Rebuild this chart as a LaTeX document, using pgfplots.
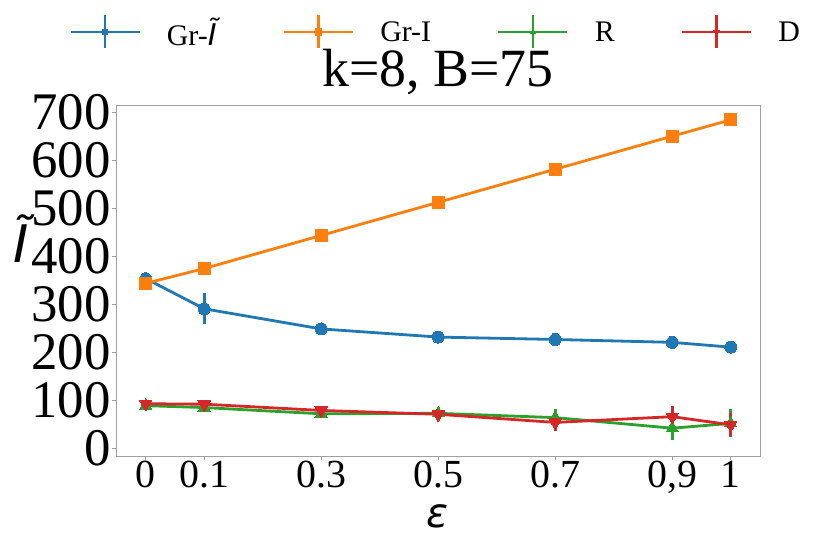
\documentclass[border=0pt]{standalone}
\usepackage{pgfplots}
\pgfplotsset{compat=1.18}
\usepackage{fontspec}
\setmainfont{Liberation Serif}
\newfontfamily\dvs{DejaVu Sans}
\definecolor{tblue}{RGB}{31,119,180}
\definecolor{torange}{RGB}{255,127,14}
\definecolor{tgreen}{RGB}{44,160,44}
\definecolor{tred}{RGB}{214,39,40}
\definecolor{spine}{RGB}{160,160,160}
\begin{document}
\begin{tikzpicture}
\begin{axis}[
  at={(116bp,80bp)}, anchor=south west,
  scale only axis, width=644bp, height=351bp,
  xmin=-0.0508, xmax=1.05, ymin=-16, ymax=716,
  axis line style={spine, line width=0.8bp},
  tick style={spine, line width=0.8bp},
  tick align=outside, major tick length=4bp,
  xtick={0,0.1,0.3,0.5,0.7,0.9,1},
  xticklabels={\textrm{0},\textrm{0.1},\textrm{0.3},\textrm{0.5},\textrm{0.7},{\textrm{0,9}},\textrm{1}},
  ytick={0,100,200,300,400,500,600,700},
  xtick pos=bottom, ytick pos=left,
  /pgf/number format/assume math mode=true,
  yticklabel style={font=\fontsize{53}{53}\selectfont, inner sep=1bp},
  xticklabel style={font=\fontsize{40}{40}\selectfont, inner sep=1bp},
  title={k=8, B=75},
  title style={at={(0.5,1)}, anchor=base, yshift=13bp, inner sep=0pt, font=\fontsize{54}{54}\selectfont},
  ylabel={\dvs\itshape Ĩ},
  ylabel style={at={(axis description cs:-0.147,0.618)}, anchor=center, rotate=-90, inner sep=0pt, font=\fontsize{52}{52}\selectfont},
  xlabel={\dvs\itshape ε},
  xlabel style={at={(axis description cs:0.5,-0.204)}, anchor=base, inner sep=0pt, font=\fontsize{41}{41}\selectfont},
  legend columns=4,
  legend cell align=left,
  legend style={at={(axis description cs:-0.073,1.208)}, anchor=west, draw=none, fill=none, inner sep=0pt,
    font=\fontsize{30}{30}\selectfont,
    nodes={inner sep=0pt},
    /tikz/every odd column/.append style={column sep=26bp},
    /tikz/every even column/.append style={column sep=66bp}},
  every axis plot/.append style={line width=2.8bp},
  legend image code/.code={
    \draw[#1,mark=none,line width=2.7bp] (0bp,0bp) -- (69bp,0bp);
    \draw[#1,mark=none,line width=2.7bp] (34.5bp,-16.5bp) -- (34.5bp,16.5bp);
    \draw[#1,mark size=3.2bp] plot coordinates {(34.5bp,0bp)};
  },
]
\addplot[color=tblue, mark=*, mark size=6bp, mark options={solid, fill=tblue, draw=tblue, line width=0pt},
  error bars/.cd, y dir=both, y explicit, error mark=none, error bar style={line width=2.8bp, solid, tblue}]
  coordinates {(0,354) +- (0,5) (0.1,291) +- (0,32) (0.3,249) +- (0,4) (0.5,232) +- (0,3) (0.7,227) +- (0,3) (0.9,221) +- (0,4) (1,211) +- (0,8)};
\addlegendentry{Gr-{\dvs\itshape Ĩ}}
\addplot[color=torange, mark=square*, mark size=6bp, mark options={solid, fill=torange, draw=torange, line width=0pt},
  error bars/.cd, y dir=both, y explicit, error mark=none, error bar style={line width=2.8bp, solid, torange}]
  coordinates {(0,344) +- (0,2) (0.1,375) +- (0,2) (0.3,444) +- (0,1) (0.5,513) +- (0,1) (0.7,582) +- (0,1) (0.9,651) +- (0,1) (1,685) +- (0,1)};
\addlegendentry{Gr-I}
\addplot[color=tgreen, mark=triangle*, mark size=7.2bp, mark options={solid, fill=tgreen, draw=tgreen, line width=0pt},
  error bars/.cd, y dir=both, y explicit, error mark=none, error bar style={line width=2.8bp, solid, tgreen}]
  coordinates {(0,89) +- (0,3) (0.1,85) +- (0,5) (0.3,72) +- (0,4) (0.5,73) +- (0,13) (0.7,64) +- (0,19) (0.9,42) +- (0,25) (1,52) +- (0,29)};
\addlegendentry{R}
\addplot[color=tred, mark=triangle*, mark size=7.2bp, mark options={solid, fill=tred, draw=tred, line width=0pt, rotate=180},
  error bars/.cd, y dir=both, y explicit, error mark=none, error bar style={line width=2.8bp, solid, tred}]
  coordinates {(0,93) +- (0,3) (0.1,92) +- (0,4) (0.3,79) +- (0,4) (0.5,71) +- (0,8) (0.7,54) +- (0,17) (0.9,66) +- (0,22) (1,49) +- (0,24)};
\addlegendentry{D}
\end{axis}
\pgfresetboundingbox
\useasboundingbox (0,0) rectangle (830bp,536bp);
\end{tikzpicture}
\end{document}
